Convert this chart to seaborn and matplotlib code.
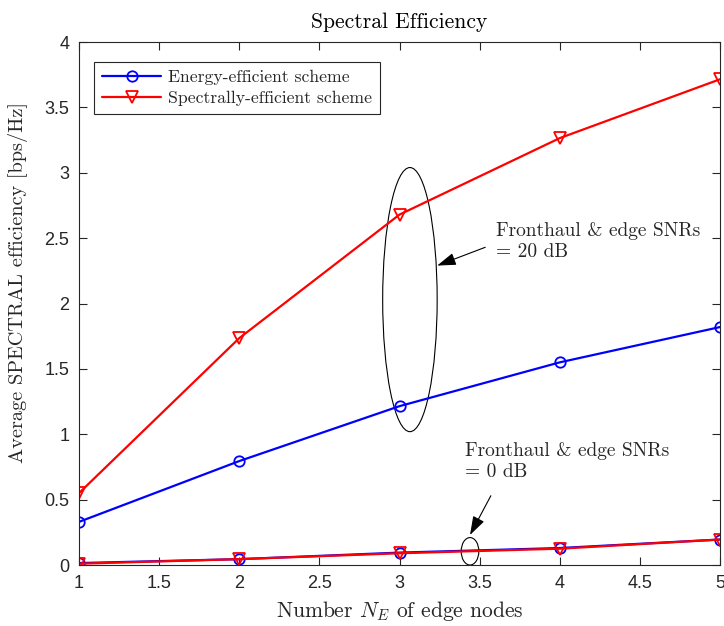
import matplotlib
matplotlib.use("Agg")
import matplotlib.pyplot as plt
from matplotlib.patches import Ellipse
import seaborn as sns
import pandas as pd

# ---- data ----
nodes = [1, 2, 3, 4, 5]
energy_20db = [0.33, 0.795, 1.215, 1.55, 1.82]
spectral_20db = [0.55, 1.735, 2.68, 3.265, 3.715]
energy_0db = [0.015, 0.045, 0.095, 0.13, 0.195]
spectral_0db = [0.01, 0.045, 0.09, 0.125, 0.195]
legend_labels = ["Energy-efficient scheme", "Spectrally-efficient scheme"]
xticks = [1, 1.5, 2, 2.5, 3, 3.5, 4, 4.5, 5]
yticks = [0, 0.5, 1, 1.5, 2, 2.5, 3, 3.5, 4]

sns.set_theme(style="white")
plt.rcParams["mathtext.fontset"] = "cm"
plt.rcParams["axes.unicode_minus"] = False

serif = ["cmr10", "DejaVu Serif"]
tickfont = ["Liberation Sans Narrow", "Liberation Sans", "DejaVu Sans"]

fig = plt.figure(figsize=(7.24, 6.26), dpi=100)
ax = fig.add_axes([0.1091, 0.0974, 0.8854, 0.8355])

df = pd.DataFrame({"x": nodes, "e20": energy_20db, "s20": spectral_20db,
                   "e0": energy_0db, "s0": spectral_0db})

blue = (0, 0, 1)
red = (1, 0, 0)
common = dict(linewidth=1.6, markerfacecolor="none", markeredgewidth=1.3)

sns.lineplot(data=df, x="x", y="e20", ax=ax, color=blue, marker="o", markersize=7.5,
             markeredgecolor=blue, label=legend_labels[0], **common)
sns.lineplot(data=df, x="x", y="s20", ax=ax, color=red, marker="v", markersize=8.5,
             markeredgecolor=red, label=legend_labels[1], **common)
sns.lineplot(data=df, x="x", y="e0", ax=ax, color=blue, marker="o", markersize=7.5,
             markeredgecolor=blue, legend=False, **common)
sns.lineplot(data=df, x="x", y="s0", ax=ax, color=red, marker="v", markersize=8.5,
             markeredgecolor=red, legend=False, **common)

ax.set_xlim(1, 5)
ax.set_ylim(0, 4)
ax.set_xticks(xticks)
ax.set_yticks(yticks)
ax.set_xticklabels([f"{t:g}" for t in xticks], family=tickfont, fontsize=13)
ax.set_yticklabels([f"{t:g}" for t in yticks], family=tickfont, fontsize=13)
ax.tick_params(direction="in", length=6, width=0.8, top=True, right=True,
               bottom=True, left=True, colors="#262626", labelcolor="#262626", pad=7)
for s in ax.spines.values():
    s.set_color("#262626")
    s.set_linewidth(0.8)

ax.set_xlabel(r"Number $N_E$ of edge nodes", family=serif, fontsize=15.5, color="#262626", labelpad=5)
ax.set_ylabel("Average SPECTRAL efficiency [bps/Hz]", family=serif, fontsize=14.6, color="#262626")
ax.yaxis.set_label_coords(-0.08, 0.54)
ax.set_title("Spectral Efficiency", family=serif, fontsize=15.5, color="black", pad=10)

leg = ax.legend(loc="upper left", bbox_to_anchor=(0.024, 0.962), borderaxespad=0,
                prop={"family": serif, "size": 12.7},
                frameon=True, fancybox=False, edgecolor="#262626", framealpha=1,
                handlelength=3.35, borderpad=0.45, labelspacing=0.3, handletextpad=0.35)
leg.get_frame().set_linewidth(0.8)

# annotations
ax.add_patch(Ellipse((3.065, 2.03), 0.34, 2.02, fill=False, edgecolor="black", linewidth=0.8))
ax.add_patch(Ellipse((3.44, 0.105), 0.11, 0.21, fill=False, edgecolor="black", linewidth=0.8))

arrow_style = "-|>,head_length=1.15,head_width=0.38"
ax.annotate("", xy=(3.235, 2.29), xytext=(3.535, 2.43),
            arrowprops=dict(arrowstyle=arrow_style, color="black", lw=0.8,
                            shrinkA=0, shrinkB=0, mutation_scale=10))
ax.annotate("", xy=(3.44, 0.23), xytext=(3.57, 0.53),
            arrowprops=dict(arrowstyle=arrow_style, color="black", lw=0.8,
                            shrinkA=0, shrinkB=0, mutation_scale=10))

ax.text(3.6, 2.475, "Fronthaul & edge SNRs\n= 20 dB", family=serif, fontsize=14,
        va="center", ha="left", linespacing=1.2)
ax.text(3.41, 0.79, "Fronthaul & edge SNRs\n= 0 dB", family=serif, fontsize=14,
        va="center", ha="left", linespacing=1.2)

fig.savefig("out.png", dpi=100)
